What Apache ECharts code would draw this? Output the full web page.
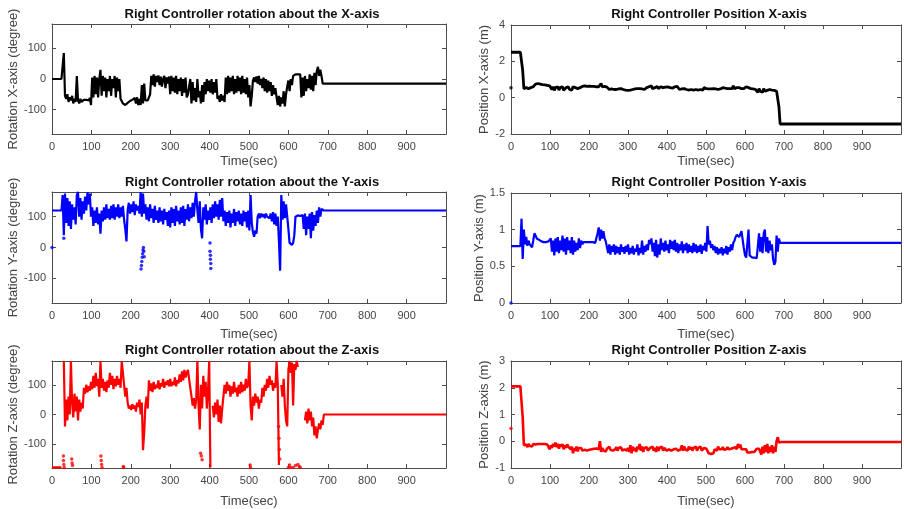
<!DOCTYPE html>
<html><head><meta charset="utf-8">
<script src="https://cdn.jsdelivr.net/npm/echarts@6/dist/echarts.min.js"></script>
<style>html,body{margin:0;padding:0;background:#fff}#c{width:904px;height:509px}</style>
</head><body><div id="c"></div>
<script>
// ---------------- DATA ----------------
const DT = 3; // sample spacing of the value arrays below (seconds)
const xTicks = [0,100,200,300,400,500,600,700,800,900];
const rotTicks = [-100,0,100];
const posXTicks = [-2,0,2,4];
const posYTicks = [0,0.5,1,1.5];
const posZTicks = [-1,0,1,2,3];

const rotX = [
0,0,0,0,0,0,0,0,0,0,
85,-55,-65,-50,-75,-60,-70,-55,-80,-65,
-75,10,-70,-80,-65,-75,-70,-68,-72,-68,
-66,-70,-62,-85,5,-60,10,-50,5,-60,
0,30,-55,10,-40,5,-60,0,-40,10,
-55,0,-30,10,-60,5,-40,0,-65,-60,
-80,-75,-85,-80,-78,-75,-72,-70,-68,-65,
-62,-80,-60,-85,-65,-85,-20,-80,-15,-70,
-65,-70,-68,-50,10,-20,15,-25,10,-10,
12,-20,8,-25,0,10,-30,5,-15,8,
-50,10,-40,5,-45,10,-50,0,-40,5,
-55,0,-45,5,-60,-50,-55,0,-80,-10,
-70,-30,-75,0,-60,-40,-80,-20,-75,-10,
-50,0,-40,-5,-45,0,-50,-10,-45,0,
-65,-55,-75,-50,-70,-55,-75,5,-50,10,
-45,5,-40,10,-50,0,-45,10,-40,5,
-50,10,-45,0,-50,5,-60,-20,-90,-55,
-5,5,-10,8,-15,10,-20,0,-30,5,
-40,0,-45,-5,-40,-10,-55,-20,-50,-30,
-60,-85,-55,-90,-60,-80,-40,-90,-50,-25,
-5,-40,0,-20,10,15,15,15,15,14,
15,-60,5,-55,10,-40,0,-30,15,-35,
10,-40,20,-20,25,40,10,30,10,-15,
-15,-15,-15,-15];
const rotXTail = -15;

const rotY = [
120,120,120,120,120,120,120,120,120,170,
40,175,80,160,70,150,60,140,90,130,
75,170,180,100,160,90,150,110,165,120,
180,140,175,100,130,70,120,80,130,75,
110,45,120,85,130,90,140,95,125,90,
135,95,140,90,130,100,140,95,130,100,
135,90,60,20,120,145,110,140,115,150,
105,140,120,135,110,180,100,175,110,140,
90,130,85,140,95,125,80,135,90,120,
80,130,85,120,75,125,90,115,70,120,
65,130,80,125,70,135,85,120,75,130,
80,135,70,125,90,140,85,130,95,145,
100,150,180,120,80,150,60,30,130,90,
140,75,120,90,130,80,140,95,150,100,
140,90,155,100,160,85,120,70,115,80,
120,65,110,80,125,70,115,85,120,75,
110,70,120,85,115,65,120,55,170,80,
50,35,55,45,100,110,95,110,100,108,
95,110,100,105,95,110,85,115,75,110,
70,100,20,-75,170,90,150,95,140,100,
60,15,10,8,15,40,100,105,104,103,
102,100,105,60,110,40,100,60,110,30,
115,55,105,70,120,80,130,100,125,120,
120,120,120,120];
const rotYTail = 120;
const rotYFirst = [[0, 0]];
const rotYDots = [[226,-70],[227,-58],[228,-45],[229,-32],[230,-20],[231,-8],[232,0],[233,-12],[234,-30],
  [401,15],[401,-12],[402,-25],[402,-38],[403,-52],[403,-68],[30,30]];

const rotZ = [
-178,-178,-178,-178,-178,-178,-178,-178,-178,null,
180,-40,50,-20,60,0,180,40,-10,70,
10,60,-20,50,10,40,20,90,70,100,
75,95,80,110,85,130,90,140,95,120,
60,180,90,120,80,110,75,115,90,140,
100,130,85,120,95,130,100,120,90,180,
180,100,60,90,40,20,30,15,35,20,
30,10,40,25,50,0,40,-120,-60,30,
60,20,115,80,105,75,110,85,100,90,
115,85,105,95,120,90,110,100,115,95,
120,95,110,100,125,95,115,105,135,110,
145,115,150,125,140,150,120,90,60,30,
55,20,50,180,30,-50,100,20,130,60,
110,20,80,180,-178,null,30,-10,40,0,
50,-25,30,-30,20,60,100,70,110,80,
100,60,95,70,110,75,90,60,100,70,
110,75,100,80,120,90,100,180,30,-20,
60,30,70,40,60,20,50,40,90,60,
100,80,120,90,130,100,115,80,105,90,
180,100,-170,null,100,60,120,30,-20,-40,
150,180,140,175,30,170,150,180,160,null,
null,null,null,null,-20,10,-30,20,-20,10,
-40,-10,-70,-40,-80,-50,-30,-50,-20,-35,
0,0,0,0];
const rotZTail = 0;
const rotZDots = [[29,-140],[29,-155],[30,-168],[31,-178],[50,-150],[51,-163],[52,-172],
  [124,-140],[125,-155],[126,-168],[127,-178],[181,-175],[182,-178],
  [377,-130],[379,-140],[381,-152],[503,-170],[504,-178],
  [575,-40],[576,-80],[577,-118],[578,-150],
  [600,-178],[603,-170],[606,-178],[612,-178],[618,-172],[624,-168],[628,-175],[630,-178]];

const posX = [
2.5,2.5,2.5,2.5,2.5,2.5,2.5,2.5,2.5,2.5,
1.5,0.5,0.6,0.55,0.65,0.5,0.6,0.55,0.65,0.6,
0.7,0.75,0.7,0.78,0.72,0.75,0.7,0.72,0.68,0.7,
0.65,0.68,0.62,0.65,0.55,0.45,0.6,0.4,0.55,0.45,
0.6,0.42,0.55,0.45,0.6,0.4,0.5,0.55,0.45,0.6,
0.45,0.55,0.42,0.6,0.5,0.55,0.45,0.5,0.6,0.55,
0.6,0.62,0.58,0.65,0.6,0.62,0.6,0.63,0.6,0.62,
0.6,0.62,0.6,0.6,0.65,0.6,0.62,0.78,0.6,0.65,
0.62,0.6,0.58,0.6,0.45,0.5,0.48,0.5,0.45,0.5,
0.45,0.5,0.48,0.45,0.5,0.48,0.45,0.5,0.42,0.48,
0.4,0.48,0.42,0.5,0.45,0.4,0.48,0.42,0.5,0.45,
0.5,0.45,0.48,0.52,0.45,0.5,0.55,0.5,0.6,0.5,
0.65,0.5,0.6,0.55,0.5,0.62,0.5,0.55,0.6,0.5,
0.55,0.5,0.58,0.52,0.6,0.5,0.55,0.6,0.52,0.55,
0.6,0.5,0.62,0.55,0.45,0.5,0.48,0.45,0.5,0.48,
0.45,0.5,0.42,0.48,0.45,0.5,0.42,0.5,0.45,0.48,
0.42,0.48,0.45,0.5,0.42,0.55,0.45,0.5,0.55,0.48,
0.5,0.48,0.45,0.5,0.52,0.48,0.5,0.45,0.5,0.48,
0.5,0.55,0.5,0.52,0.48,0.5,0.55,0.5,0.58,0.5,
0.65,0.5,0.6,0.55,0.5,0.55,0.6,0.5,0.55,0.5,
0.55,0.6,0.5,0.55,0.45,0.5,0.45,0.48,0.45,0.45,
0.42,0.3,0.5,0.35,0.45,0.3,0.5,0.35,0.45,0.4,
0.35,0.45,0.38,0.42,0.35,0.4,0.38,0.35,0.4,-0.5,
-1.45,-1.45,-1.45,-1.45];
const posXTail = -1.45;
const posXFirst = [[0, 0.55]];

const posY = [
0.775,0.775,0.775,0.775,0.775,0.775,0.775,0.775,0.775,1.15,
0.6,1.0,0.8,0.9,0.78,0.85,0.8,0.82,0.76,0.85,
0.95,0.92,0.88,0.86,0.86,0.85,0.84,0.84,0.83,0.84,
0.83,0.82,0.84,0.82,0.88,0.7,0.85,0.65,0.88,0.7,
0.9,0.68,0.85,0.72,0.92,0.7,0.88,0.66,0.9,0.72,
0.85,0.68,0.9,0.66,0.85,0.7,0.82,0.72,0.88,0.75,
0.85,0.8,0.83,0.84,0.83,0.82,0.83,0.82,0.83,0.82,
0.83,0.82,0.82,0.83,0.95,1.03,0.85,1.0,0.88,0.98,
0.88,0.84,0.82,0.68,0.8,0.66,0.78,0.7,0.8,0.66,
0.78,0.68,0.76,0.66,0.8,0.7,0.76,0.67,0.78,0.7,
0.8,0.66,0.75,0.68,0.78,0.66,0.74,0.7,0.8,0.65,
0.75,0.68,0.85,0.66,0.78,0.7,0.8,0.72,0.86,0.8,
0.88,0.7,0.82,0.64,0.86,0.62,0.8,0.66,0.88,0.72,
0.82,0.7,0.85,0.72,0.8,0.68,0.86,0.74,0.84,0.72,
0.86,0.7,0.82,0.68,0.8,0.72,0.84,0.68,0.8,0.72,
0.82,0.68,0.8,0.7,0.78,0.68,0.82,0.7,0.8,0.68,
0.78,0.7,0.8,0.67,0.78,0.72,0.82,0.7,1.05,0.8,
0.85,0.75,0.8,0.72,0.78,0.68,0.76,0.66,0.74,0.68,
0.76,0.65,0.74,0.68,0.78,0.66,0.76,0.7,0.8,0.72,
0.82,0.85,0.9,0.93,0.95,0.9,0.88,0.98,1.0,0.75,
0.65,0.62,0.62,1.0,0.65,0.63,0.62,0.62,0.62,0.61,
0.61,0.62,0.95,0.7,0.9,0.68,0.95,1.0,0.7,0.9,
0.68,0.85,0.72,0.8,0.6,0.52,0.56,0.92,0.7,0.88,
0.82,0.82,0.82,0.82];
const posYTail = 0.82;
const posYFirst = [[0, 0]];

const posZ = [
2.05,2.05,2.05,2.05,2.05,2.05,2.05,2.05,2.05,2.05,
0.9,-0.15,-0.2,-0.12,-0.22,-0.1,-0.18,-0.12,-0.2,-0.1,
-0.1,-0.12,-0.08,-0.1,-0.09,-0.1,-0.08,-0.1,-0.09,-0.1,
-0.1,-0.12,-0.1,-0.3,-0.15,-0.25,-0.1,-0.2,-0.05,-0.22,
-0.1,-0.28,-0.12,-0.2,-0.1,-0.3,-0.15,-0.25,-0.12,-0.2,
-0.15,-0.3,-0.2,-0.45,-0.25,-0.35,-0.2,-0.38,-0.25,-0.32,
-0.25,-0.35,-0.28,-0.32,-0.3,-0.35,-0.3,-0.32,-0.28,-0.3,
-0.3,-0.28,-0.3,-0.27,-0.3,-0.3,0.0,-0.4,-0.25,-0.35,
-0.3,-0.38,-0.28,-0.35,-0.2,-0.32,-0.25,-0.35,-0.28,-0.3,
-0.22,-0.35,-0.25,-0.3,-0.22,-0.35,-0.28,-0.3,-0.25,-0.35,
-0.25,-0.4,-0.15,-0.45,-0.2,-0.35,-0.25,-0.4,-0.2,-0.3,
-0.1,-0.35,-0.2,-0.4,-0.25,-0.3,-0.22,-0.35,-0.28,-0.25,
-0.3,-0.2,-0.35,-0.25,-0.4,-0.2,-0.35,-0.25,-0.3,-0.2,
-0.35,-0.25,-0.3,-0.35,-0.28,-0.3,-0.25,-0.35,-0.28,-0.3,
-0.32,-0.28,-0.3,-0.35,-0.28,-0.3,-0.15,-0.35,-0.2,-0.3,
-0.25,-0.35,-0.2,-0.3,-0.22,-0.35,-0.25,-0.3,-0.2,-0.35,
-0.25,-0.3,-0.2,-0.35,-0.28,-0.25,-0.3,-0.28,-0.3,-0.45,
-0.5,-0.48,-0.5,-0.45,-0.3,-0.25,-0.35,-0.2,-0.3,-0.25,
-0.3,-0.22,-0.32,-0.25,-0.3,-0.22,-0.3,-0.25,-0.28,-0.3,
-0.25,-0.3,-0.22,-0.3,-0.1,-0.25,-0.12,-0.3,-0.28,-0.3,
-0.28,-0.3,-0.42,-0.4,-0.42,-0.4,-0.4,-0.42,-0.4,-0.42,
-0.28,-0.3,-0.28,-0.3,-0.5,-0.2,-0.45,-0.15,-0.4,-0.1,
-0.45,-0.2,-0.4,-0.15,-0.45,-0.2,-0.4,0.0,0.15,-0.05,
-0.03,-0.03,-0.03,-0.03];
const posZTail = -0.03;
const posZFirst = [[0, 0.48]];

// ---------------- LAYOUT / STYLE ----------------
const FONT = 'Liberation Sans, Arial, sans-serif';
const AX = '#4d4d4d';
const panels = [
 {title:'Right Controller rotation about the X-axis', yName:'Rotation X-axis (degree)', grid:{left:52,top:24,width:394,height:110}, min:-180,max:180,ticks:rotTicks, color:'#000000', vals:rotX, tail:rotXTail, dots:[], lw:2.2, yGap:31, xGap:21, tx:252, ty:14},
 {title:'Right Controller Position X-axis', yName:'Position X-axis (m)', grid:{left:511,top:25,width:392,height:109}, min:-2,max:4,ticks:posXTicks, color:'#000000', vals:posX, tail:posXTail, dots:posXFirst, lw:2.8, yGap:19, xGap:21, tx:709, ty:14},
 {title:'Right Controller rotation about the Y-axis', yName:'Rotation Y-axis (degree)', grid:{left:52,top:192,width:394,height:111}, min:-180,max:180,ticks:rotTicks, color:'#0000ff', vals:rotY, tail:rotYTail, dots:rotYFirst.concat(rotYDots), lw:2.2, yGap:31, xGap:25, tx:252, ty:182},
 {title:'Right Controller Position Y-axis', yName:'Position Y-axis (m)', grid:{left:511,top:193,width:392,height:110}, min:0,max:1.5,ticks:posYTicks, color:'#0000ff', vals:posY, tail:posYTail, dots:posYFirst, lw:2.2, yGap:19, xGap:25, tx:709, ty:182},
 {title:'Right Controller rotation about the Z-axis', yName:'Rotation Z-axis (degree)', grid:{left:52,top:361,width:394,height:108}, min:-180,max:180,ticks:rotTicks, color:'#ff0000', vals:rotZ, tail:rotZTail, dots:rotZDots, lw:2.2, yGap:31, xGap:27, tx:252, ty:350},
 {title:'Right Controller Position Z-axis', yName:'Position Z-axis (m)', grid:{left:511,top:361,width:392,height:108}, min:-1,max:3,ticks:posZTicks, color:'#ff0000', vals:posZ, tail:posZTail, dots:posZFirst, lw:2.6, yGap:19, xGap:27, tx:709, ty:350}
];

const grids=[], xAxes=[], yAxes=[], series=[], graphics=[];
panels.forEach((p,g)=>{
  grids.push(Object.assign({containLabel:false}, p.grid));
  const tickStyle = {show:true, inside:true, length:4, lineStyle:{color:AX, width:1}};
  xAxes.push({gridIndex:g, type:'value', min:0, max:1000, interval:100, position:'bottom',
    axisLine:{show:true, onZero:false, lineStyle:{color:AX}}, axisTick:tickStyle,
    axisLabel:{color:'#444', fontSize:11, fontFamily:FONT, margin:7, formatter:v=> v===1000?'':String(v)},
    splitLine:{show:false}, name:'Time(sec)', nameLocation:'middle', nameGap:p.xGap,
    nameTextStyle:{color:'#444', fontSize:13, fontFamily:FONT}});
  xAxes.push({gridIndex:g, type:'value', min:0, max:1000, interval:100, position:'top',
    axisLine:{show:true, onZero:false, lineStyle:{color:AX}}, axisTick:tickStyle,
    axisLabel:{show:false}, splitLine:{show:false}});
  yAxes.push({gridIndex:g, type:'value', min:p.min, max:p.max, position:'left',
    axisLine:{show:true, onZero:false, lineStyle:{color:AX}},
    axisTick:Object.assign({customValues:p.ticks}, tickStyle),
    axisLabel:{customValues:p.ticks, color:'#444', fontSize:11, fontFamily:FONT, margin:6},
    splitLine:{show:false}, name:p.yName, nameLocation:'middle', nameGap:p.yGap,
    nameTextStyle:{color:'#444', fontSize:13, fontFamily:FONT}});
  yAxes.push({gridIndex:g, type:'value', min:p.min, max:p.max, position:'right',
    axisLine:{show:true, onZero:false, lineStyle:{color:AX}},
    axisTick:Object.assign({customValues:p.ticks}, tickStyle),
    axisLabel:{show:false}, splitLine:{show:false}});
  const line = p.vals.map((v,i)=>[i*DT, v]);
  line.push([1000, p.tail]);
  series.push({type:'line', xAxisIndex:2*g, yAxisIndex:2*g, data:line, showSymbol:false,
    lineStyle:{color:p.color, width:p.lw}, itemStyle:{color:p.color}, silent:true, z:3});
  if (p.dots.length) series.push({type:'scatter', xAxisIndex:2*g, yAxisIndex:2*g, data:p.dots,
    symbol:'circle', symbolSize:3.5, itemStyle:{color:p.color}, silent:true, z:4});
  graphics.push({type:'text', x:p.tx, y:p.ty, style:{text:p.title, textAlign:'center', textVerticalAlign:'middle',
    font:'bold 13px '+FONT, fill:'#111'}});
});

const chart = echarts.init(document.getElementById('c'), null, {renderer:'canvas'});
chart.setOption({animation:false, backgroundColor:'#ffffff', grid:grids, xAxis:xAxes, yAxis:yAxes, series:series, graphic:graphics});
</script></body></html>
